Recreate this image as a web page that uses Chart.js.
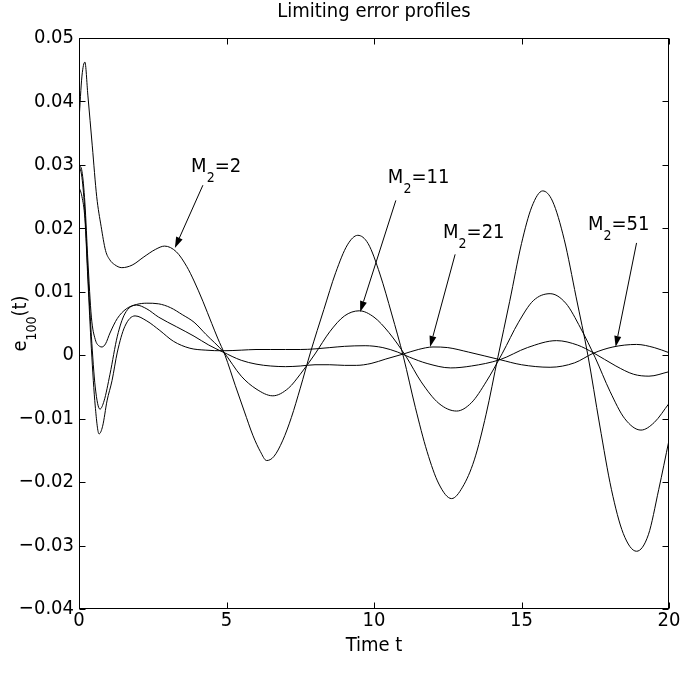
<!DOCTYPE html>
<html><head><meta charset="utf-8">
<script src="https://cdn.jsdelivr.net/npm/chart.js@4.4.1/dist/chart.umd.min.js"></script>
<style>html,body{margin:0;padding:0;background:#fff;}</style>
</head><body>
<canvas id="c" width="682" height="676"></canvas>
<script>
// ---------- data ----------
const xTickVals = [0, 5, 10, 15, 20];
const xTickLabels = ['0', '5', '10', '15', '20'];
const yTickVals = [-0.04, -0.03, -0.02, -0.01, 0, 0.01, 0.02, 0.03, 0.04, 0.05];
const yTickLabels = ['\u22120.04', '\u22120.03', '\u22120.02', '\u22120.01', '0', '0.01', '0.02', '0.03', '0.04', '0.05'];

const seriesNames = ['M2=2', 'M2=11', 'M2=21', 'M2=51'];

const tM2 = [0,0.1,0.2,0.3,0.45,0.6,0.75,0.9,1.05,1.2,1.45,1.8,2.2,2.6,2.9,3.3,3.65,3.9,4.2,4.5,4.7,4.95,5.3,5.6,5.9,6.15,6.36,6.6,6.9,7.2,7.5,7.85,8.3,8.7,9.1,9.45,9.8,10.2,10.6,11.0,11.4,11.8,12.2,12.63,13.0,13.4,13.8,14.2,14.6,15.0,15.35,15.72,16.05,16.45,16.85,17.25,17.65,18.05,18.45,18.9,19.3,19.65,20];
const eM2 = [0.0370,0.0440,0.0462,0.0410,0.0330,0.0250,0.0203,0.0165,0.0150,0.0143,0.0138,0.0142,0.0155,0.0167,0.0172,0.0163,0.0140,0.0117,0.0085,0.0050,0.0027,0.0,-0.0048,-0.0088,-0.0127,-0.0152,-0.0166,-0.0160,-0.0135,-0.0098,-0.0052,0.0005,0.0072,0.0130,0.0174,0.0189,0.0176,0.0128,0.0065,-0.0003,-0.0082,-0.0152,-0.0203,-0.0226,-0.0208,-0.0165,-0.0093,-0.0003,0.0085,0.0176,0.0234,0.0259,0.0243,0.0182,0.0092,0.0,-0.0110,-0.0212,-0.0281,-0.0309,-0.0283,-0.0212,-0.0134];

const tM11 = [0,0.1,0.2,0.3,0.42,0.55,0.7,0.78,0.9,1.05,1.3,1.6,1.95,2.3,2.7,3.1,3.5,3.9,4.3,4.9,5.5,6.0,6.57,7.1,7.5,8.0,8.5,9.0,9.5,10.0,10.5,11.1,11.6,12.2,12.8,13.3,13.8,14.35,14.9,15.4,15.97,16.5,17.0,17.5,18.0,18.5,19.05,19.5,20];
const eM11 = [0.0300,0.0290,0.0240,0.0150,0.0060,0.0025,0.0014,0.0013,0.0018,0.0035,0.0058,0.0073,0.0080,0.0082,0.0081,0.0075,0.0064,0.0052,0.0033,0.0005,-0.0033,-0.0053,-0.0064,-0.0052,-0.0030,0.0002,0.0037,0.0062,0.0070,0.0060,0.0036,-0.0003,-0.0042,-0.0076,-0.0088,-0.0075,-0.0042,0.0003,0.0052,0.0086,0.0097,0.0082,0.0043,-0.0004,-0.0057,-0.0100,-0.0118,-0.0106,-0.0076];

const tM21 = [0,0.1,0.2,0.3,0.42,0.55,0.68,0.8,0.95,1.12,1.3,1.55,1.9,2.3,2.74,3.2,3.76,4.3,4.88,5.5,6.0,6.5,7.0,7.5,8.0,8.5,9.0,9.7,10.3,10.8,11.2,11.8,12.6,13.3,14.27,15.2,16.19,16.9,17.43,18.2,18.8,19.32,20];
const eM21 = [0.0265,0.0250,0.0215,0.0120,0.0010,-0.0080,-0.0124,-0.0112,-0.0072,-0.0040,0.0005,0.0045,0.0062,0.0054,0.0039,0.0022,0.0011,0.0008,0.0007,0.0008,0.0009,0.0009,0.0009,0.0009,0.0010,0.0012,0.0014,0.0015,0.0012,0.0005,-0.0003,-0.0013,-0.0020,-0.0017,-0.0007,0.0012,0.0023,0.0016,0.0004,-0.0017,-0.0030,-0.0033,-0.0026];

const tM51 = [0,0.1,0.2,0.3,0.42,0.55,0.71,0.85,1.05,1.3,1.55,1.95,2.3,2.7,3.3,3.9,4.4,4.88,5.5,6.0,6.5,7.0,7.5,8.0,8.5,9.0,9.4,9.9,10.4,11.0,11.5,12.0,12.5,13.2,14.27,15.0,15.97,16.8,17.43,18.1,18.9,19.5,20];
const eM51 = [0.0300,0.0280,0.0225,0.0130,0.0030,-0.0050,-0.0085,-0.0072,-0.0030,0.0030,0.0065,0.0079,0.0073,0.0060,0.0045,0.0030,0.0016,0.0005,-0.0008,-0.0014,-0.0017,-0.0018,-0.0017,-0.0015,-0.0015,-0.0016,-0.0016,-0.0013,-0.0006,0.0002,0.0009,0.0013,0.0012,0.0005,-0.0007,-0.0015,-0.0019,-0.0012,0.0003,0.0013,0.0017,0.0012,0.0004];

// annotation labels (placed in data units)
const noteNumbers = ['2', '11', '21', '51'];
const noteTextT = [3.80, 10.47, 12.34, 17.25];
const noteTextV = [0.0289, 0.0271, 0.0184, 0.0197];
const noteFromT = [4.20, 10.74, 12.75, 18.90];
const noteFromV = [0.0268, 0.0244, 0.0159, 0.0177];
const noteToT = [3.25, 9.53, 11.90, 18.19];
const noteToV = [0.0169, 0.0068, 0.0013, 0.0013];

// ---------- styling ----------
const FONT = "'Liberation Sans Narrow','Arial Narrow','DejaVu Sans Condensed','Liberation Sans',sans-serif";
const FS = 20;
const toPts = (ts, vs) => ts.map((t, i) => ({x: t, y: vs[i]}));
const allT = [tM2, tM11, tM21, tM51];
const allE = [eM2, eM11, eM21, eM51];

const datasets = seriesNames.map((name, i) => ({
  label: name,
  data: toPts(allT[i], allE[i]),
  borderColor: '#000',
  borderWidth: 1,
  pointRadius: 0,
  fill: false,
  cubicInterpolationMode: 'monotone'
}));

function drawSubText(ctx, x, y, parts) {
  let cx = x;
  for (const [txt, sub] of parts) {
    ctx.font = (sub ? Math.round(FS * 0.72) : FS) + 'px ' + FONT;
    ctx.fillText(txt, cx, sub ? y + 10 : y);
    cx += ctx.measureText(txt).width;
  }
  return cx - x;
}
function measureSub(ctx, parts) {
  let w = 0;
  for (const [txt, sub] of parts) {
    ctx.font = (sub ? Math.round(FS * 0.72) : FS) + 'px ' + FONT;
    w += ctx.measureText(txt).width;
  }
  return w;
}

const decor = {
  id: 'decor',
  afterDraw(chart) {
    const {ctx, chartArea: a, scales: {x, y}} = chart;
    ctx.save();
    ctx.strokeStyle = '#000';
    ctx.fillStyle = '#000';
    ctx.lineWidth = 1;
    const L = Math.round(a.left) + 0.5, R = Math.round(a.right) - 0.5;
    const T = Math.round(a.top) + 0.5, B = Math.round(a.bottom) - 0.5;
    ctx.strokeRect(L, T, R - L, B - T);
    const tl = 6;
    ctx.beginPath();
    xTickVals.forEach(v => {
      const px = Math.round(x.getPixelForValue(v)) + 0.5;
      ctx.moveTo(px, B); ctx.lineTo(px, B - tl);
      ctx.moveTo(px, T); ctx.lineTo(px, T + tl);
    });
    yTickVals.forEach(v => {
      const py = Math.round(y.getPixelForValue(v)) + 0.5;
      ctx.moveTo(L, py); ctx.lineTo(L + tl, py);
      ctx.moveTo(R, py); ctx.lineTo(R - tl, py);
    });
    ctx.stroke();

    ctx.textBaseline = 'alphabetic';
    ctx.textAlign = 'left';
    noteNumbers.forEach((n, i) => {
      const tx = x.getPixelForValue(noteTextT[i]);
      const ty = y.getPixelForValue(noteTextV[i]);
      drawSubText(ctx, tx, ty, [['M', false], ['2', true], ['=' + n, false]]);
      const x0 = x.getPixelForValue(noteFromT[i]), y0 = y.getPixelForValue(noteFromV[i]);
      const x1 = x.getPixelForValue(noteToT[i]), y1 = y.getPixelForValue(noteToV[i]);
      const ang = Math.atan2(y1 - y0, x1 - x0);
      const hl = 11, hw = 3.5;
      const bx = x1 - hl * Math.cos(ang), by = y1 - hl * Math.sin(ang);
      ctx.beginPath();
      ctx.moveTo(x0, y0); ctx.lineTo(bx, by);
      ctx.stroke();
      ctx.beginPath();
      ctx.moveTo(x1, y1);
      ctx.lineTo(bx + hw * Math.sin(ang), by - hw * Math.cos(ang));
      ctx.lineTo(bx - hw * Math.sin(ang), by + hw * Math.cos(ang));
      ctx.closePath();
      ctx.fill();
    });

    const parts = [['e', false], ['100', true], ['(t)', false]];
    const w = measureSub(ctx, parts);
    ctx.translate(26, (a.top + a.bottom) / 2);
    ctx.rotate(-Math.PI / 2);
    drawSubText(ctx, -w / 2, 0, parts);
    ctx.restore();
  }
};

new Chart(document.getElementById('c'), {
  type: 'line',
  data: {datasets},
  options: {
    responsive: false,
    animation: false,
    devicePixelRatio: 1,
    layout: {padding: {left: 0, right: 13, top: 0, bottom: 0}},
    plugins: {
      legend: {display: false},
      tooltip: {enabled: false},
      title: {
        display: true,
        fullSize: false,
        text: 'Limiting error profiles',
        color: '#000',
        font: {family: FONT, size: FS, weight: 'normal'},
        padding: {top: 0, bottom: 14}
      }
    },
    scales: {
      x: {
        type: 'linear', min: 0, max: 20,
        afterBuildTicks: s => { s.ticks = xTickVals.map(v => ({value: v})); },
        afterFit: s => { s.height = 67; },
        ticks: {
          color: '#000', font: {family: FONT, size: FS}, padding: 0, maxRotation: 0,
          callback: (v) => xTickLabels[xTickVals.indexOf(v)]
        },
        grid: {display: false, drawTicks: false},
        border: {display: false},
        title: {display: true, text: 'Time t', color: '#000', font: {family: FONT, size: FS}, padding: {top: 0, bottom: 18}}
      },
      y: {
        type: 'linear', min: -0.04, max: 0.05,
        afterBuildTicks: s => { s.ticks = yTickVals.map(v => ({value: v})); },
        afterFit: s => { s.width = 79; },
        ticks: {
          color: '#000', font: {family: FONT, size: FS}, padding: 5,
          callback: (v) => {
            const k = yTickVals.findIndex(t => Math.abs(t - v) < 1e-9);
            return k >= 0 ? yTickLabels[k] : '';
          }
        },
        grid: {display: false, drawTicks: false},
        border: {display: false}
      }
    }
  },
  plugins: [decor]
});
</script>
</body></html>
